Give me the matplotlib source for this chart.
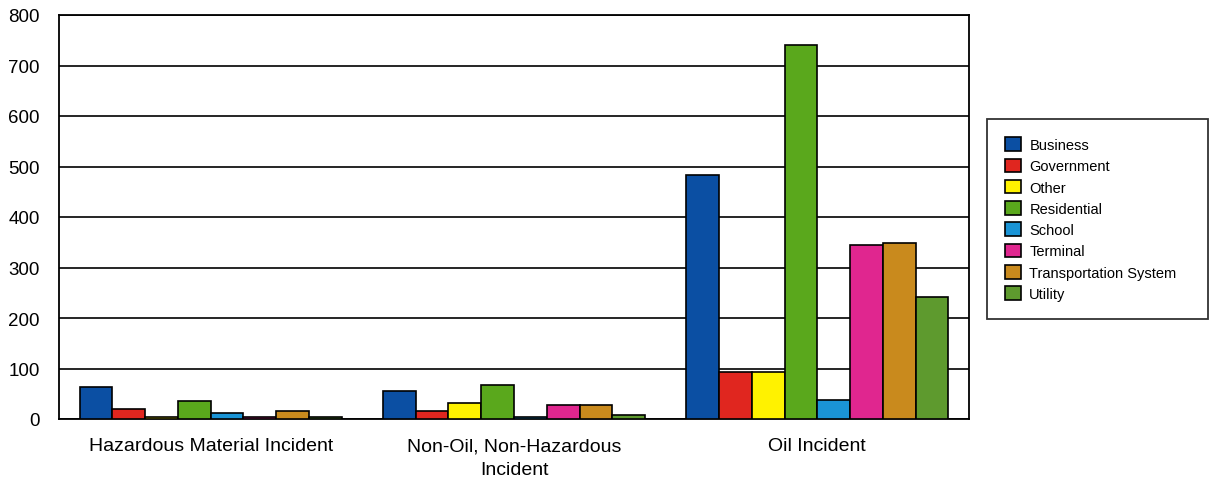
import matplotlib
matplotlib.use("Agg")
import matplotlib.pyplot as plt
import numpy as np

plt.rcParams['font.family'] = ['Liberation Sans', 'DejaVu Sans']

incidents = ["Hazardous Material Incident", "Non-Oil, Non-Hazardous\nIncident", "Oil Incident"]
facility_types = ["Business", "Government", "Other", "Residential", "School",
                  "Terminal", "Transportation System", "Utility"]

# counts per facility type, one value per incident category
business = [64, 56, 484]
government = [20, 15, 93]
other = [3, 32, 93]
residential = [36, 68, 740]
school = [12, 3, 38]
terminal = [3, 27, 344]
transportation = [16, 28, 349]
utility = [3, 8, 242]

series = [business, government, other, residential, school, terminal, transportation, utility]

colors = ['#0b4fa3', '#e0261f', '#fff200', '#5aa81c', '#1a94d6',
          '#e0268f', '#c98a1d', '#5e9a2e']


def main():
    fig = plt.figure(figsize=(12.1, 4.81), dpi=100)
    ax = fig.add_axes([59 / 1210, 1 - 420 / 481, 910 / 1210, 404 / 481])

    x = np.arange(len(incidents))
    n = len(series)
    group_w = 0.864
    w = group_w / n
    for i, (vals, name) in enumerate(zip(series, facility_types)):
        offs = -group_w / 2 + w * (i + 0.5)
        ax.bar(x + offs, vals, width=w, color=colors[i], edgecolor='black',
               linewidth=1.2, label=name, zorder=3)

    ax.set_xlim(-0.5, len(incidents) - 0.5)
    ax.set_ylim(0, 800)
    ax.set_yticks(np.arange(0, 801, 100))
    ax.set_xticks(x)
    ax.set_xticklabels(incidents, fontsize=14)
    ax.tick_params(axis='y', length=0, pad=14, labelsize=13.5)
    ax.tick_params(axis='x', length=0, pad=13)
    for lab in ax.get_xticklabels():
        lab.set_linespacing(1.5)

    ax.yaxis.grid(True, color='black', linewidth=1.2, zorder=0)
    ax.set_axisbelow(True)
    for sp in ax.spines.values():
        sp.set_linewidth(1.3)
        sp.set_color('black')

    leg = fig.legend(loc='upper left',
                     bbox_to_anchor=(987 / 1210, 1 - 318 / 481, 221 / 1210, 198 / 481),
                     mode='expand', fontsize=10.5, frameon=True, fancybox=False,
                     edgecolor='black', handlelength=1.05, handleheight=1.05,
                     handletextpad=0.6, labelspacing=0.45, borderpad=1.25,
                     borderaxespad=0)
    leg.get_frame().set_linewidth(1.3)

    fig.savefig("out.png", dpi=100)


if __name__ == "__main__":
    main()
